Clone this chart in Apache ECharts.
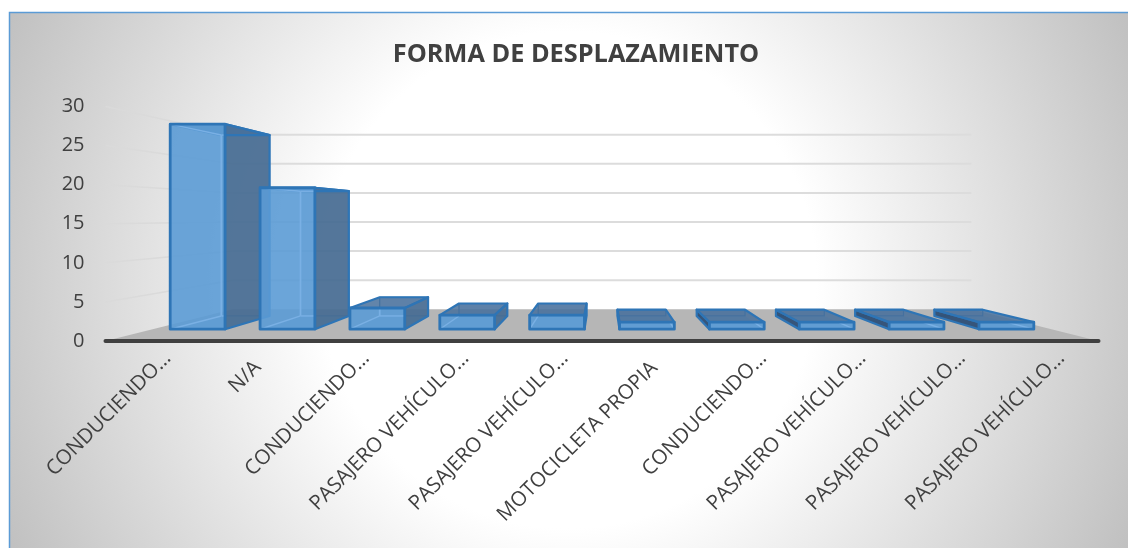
<!DOCTYPE html>
<html><head><meta charset="utf-8">
<style>html,body{margin:0;padding:0;background:#fff}#c{width:1128px;height:548px}</style>
<script src="https://cdn.jsdelivr.net/npm/echarts@6/dist/echarts.min.js"></script>
</head><body><div id="c"></div>
<script>
var categories = ['CONDUCIENDO…','N/A','CONDUCIENDO…','PASAJERO VEHÍCULO…','PASAJERO VEHÍCULO…','MOTOCICLETA PROPIA','CONDUCIENDO…','PASAJERO VEHÍCULO…','PASAJERO VEHÍCULO…','PASAJERO VEHÍCULO…'];
var values = [29,20,3,2,2,1,1,1,1,1];
var yTicks = [0,5,10,15,20,25,30];

var TEXT='#404040', FONT='"Open Sans", sans-serif';
var VY=217, S_FRONT=0.905, S_BACK=0.798, S_WALL=0.744, BAR_W=0.61;
var EDGE='#2e75b6', FRONT='rgba(91,155,213,0.9)', SIDE='rgba(72,108,146,0.92)', SIDE_L='rgba(48,80,118,0.95)', TOP='rgba(72,112,155,0.85)', HID='#7ab0e4';
var shortLabelPadding = {'N/A':[0,13,0,0],'MOTOCICLETA PROPIA':[0,14,0,0]};

function projector(cs){
  var vx=cs.x+cs.width/2;
  return function(x,y,s){return [vx+s*(x-vx),VY+s*(y-VY)];};
}
function poly(points,fill,stroke,w){
  return {type:'polygon',shape:{points:points},style:{fill:fill||'none',stroke:stroke||'none',lineWidth:w||0,lineJoin:'round'},silent:true};
}
function line(a,b,color,w){
  return {type:'line',shape:{x1:a[0],y1:a[1],x2:b[0],y2:b[1]},style:{stroke:color,lineWidth:w,fill:'none'},silent:true};
}
function clipDiag(a,b,yMin){
  if(b[1]>=yMin) return b;
  var t=(a[1]-yMin)/(a[1]-b[1]);
  return [a[0]+t*(b[0]-a[0]),yMin];
}
function renderWall(params,api){
  var cs=params.coordSys,P=projector(cs),p=api.coord([0,api.value(1)]),y=p[1];
  var a=[cs.x,y],b=P(cs.x,y,S_WALL),c=P(cs.x+cs.width,y,S_WALL);
  if(api.value(1)===0) return {type:'group',children:[]};
  return {type:'group',children:[line(a,b,'#dadada',1.5),line(b,c,'#dcdcdc',2)]};
}
function renderFloor(params,api){
  var cs=params.coordSys,P=projector(cs),y=cs.y+cs.height,l=cs.x,r=cs.x+cs.width;
  return poly([[l,y],[r,y],P(r,y,S_WALL),P(l,y,S_WALL)],'#b6b6b6');
}
function renderBar(params,api){
  var cs=params.coordSys,P=projector(cs),vx=cs.x+cs.width/2;
  var i=api.value(0),v=api.value(1);
  var base=api.coord([i,0]),top=api.coord([i,v]),hw=api.size([1,0])[0]*BAR_W/2;
  var L=base[0]-hw,R=base[0]+hw,Y0=base[1],Y1=top[1];
  var fbl=P(L,Y0,S_FRONT),fbr=P(R,Y0,S_FRONT),ftl=P(L,Y1,S_FRONT),ftr=P(R,Y1,S_FRONT);
  var bbl=P(L,Y0,S_BACK),bbr=P(R,Y0,S_BACK),btl=P(L,Y1,S_BACK),btr=P(R,Y1,S_BACK);
  var ch=[];
  ch.push(poly([bbl,bbr,btr,btl],'rgba(80,120,165,0.2)',EDGE,1.2));
  ch.push(poly([fbl,fbr,bbr,bbl],'rgba(91,155,213,0.35)'));
  if(L>vx) ch.push(poly([fbl,ftl,btl,bbl],SIDE_L,EDGE,2.2));
  if(R<vx) ch.push(poly([fbr,ftr,btr,bbr],SIDE,EDGE,2.2));
  ch.push(poly([ftl,ftr,btr,btl],TOP,EDGE,2.2));
  ch.push(poly([fbl,fbr,ftr,ftl],FRONT));
  // back edges seen through the translucent front face, clipped to it
  var xa=Math.max(bbl[0],fbl[0]),xb=Math.min(bbr[0],fbr[0]),yb=bbl[1],yf=ftl[1];
  var yt=Math.max(btl[1],yf);
  if(yb>yf+1){
    ch.push(line([xa,yb],[xb,yb],HID,1.5));
    if(bbl[0]>fbl[0]+1) ch.push(line([bbl[0],yb],[bbl[0],yt],HID,1.8));
    if(bbr[0]<fbr[0]-1) ch.push(line([bbr[0],yb],[bbr[0],yt],HID,1.8));
  }
  if(btl[1]>yf) ch.push(line([xa,btl[1]],[xb,btl[1]],HID,1.5));
  if(R<vx){ ch.push(line(fbl,clipDiag(fbl,bbl,yf),HID,1.4)); if(btl[1]>yf) ch.push(line(ftl,btl,HID,1.4)); }
  if(L>vx){ ch.push(line(fbr,clipDiag(fbr,bbr,yf),HID,1.4)); if(btr[1]>yf) ch.push(line(ftr,btr,HID,1.4)); }
  ch.push(poly([fbl,fbr,ftr,ftl],'none',EDGE,2.8));
  return {type:'group',children:ch};
}

var chart=echarts.init(document.getElementById('c'),null,{renderer:'canvas'});
chart.setOption({
  animation:false,
  backgroundColor:'#ffffff',
  title:{text:'FORMA DE DESPLAZAMIENTO',left:571,top:37,textAlign:'center',
    textStyle:{fontFamily:FONT,fontSize:25.3,fontWeight:'bold',color:TEXT}},
  graphic:[{type:'rect',z:-10,silent:true,shape:{x:9.5,y:12.5,width:1300,height:800},
    style:{stroke:'#5b9bd5',lineWidth:1.5,
      fill:{type:'radial',x:568,y:280,r:621,global:true,colorStops:[{offset:0,color:'#ffffff'},{offset:0.4,color:'#ffffff'},{offset:1,color:'#c0c0c0'}]}}}],
  grid:[
    {left:105.5,right:29.5,top:106.5,bottom:207},
    {left:118,right:17,top:106,bottom:207}
  ],
  xAxis:[
    {gridIndex:0,type:'category',data:categories,z:5,
      axisLine:{show:true,lineStyle:{color:'#404040',width:4,cap:'round'}},axisTick:{show:false},axisLabel:{show:false},splitLine:{show:false}},
    {gridIndex:1,type:'category',
      data:categories.map(function(c){return shortLabelPadding[c]?{value:c,textStyle:{padding:shortLabelPadding[c]}}:c;}),
      axisLine:{show:false},axisTick:{show:false},splitLine:{show:false},
      axisLabel:{show:true,interval:0,rotate:45,margin:14,color:TEXT,fontFamily:FONT,fontSize:20.5,hideOverlap:false}}
  ],
  yAxis:[
    {gridIndex:0,type:'value',min:0,max:30,interval:5,axisLine:{show:false},axisTick:{show:false},splitLine:{show:false},
      axisLabel:{margin:21,color:TEXT,fontFamily:FONT,fontSize:20}},
    {gridIndex:1,type:'value',min:0,max:30,interval:5,show:false,splitLine:{show:false}}
  ],
  series:[
    {type:'custom',xAxisIndex:0,yAxisIndex:0,z:1,clip:false,silent:true,renderItem:renderWall,data:yTicks.map(function(v){return [0,v];})},
    {type:'custom',xAxisIndex:0,yAxisIndex:0,z:2,clip:false,silent:true,renderItem:renderFloor,data:[[0,0]]},
    {type:'custom',xAxisIndex:0,yAxisIndex:0,z:3,clip:false,silent:true,renderItem:renderBar,data:values.map(function(v,i){return [i,v];})}
  ]
});
</script></body></html>
